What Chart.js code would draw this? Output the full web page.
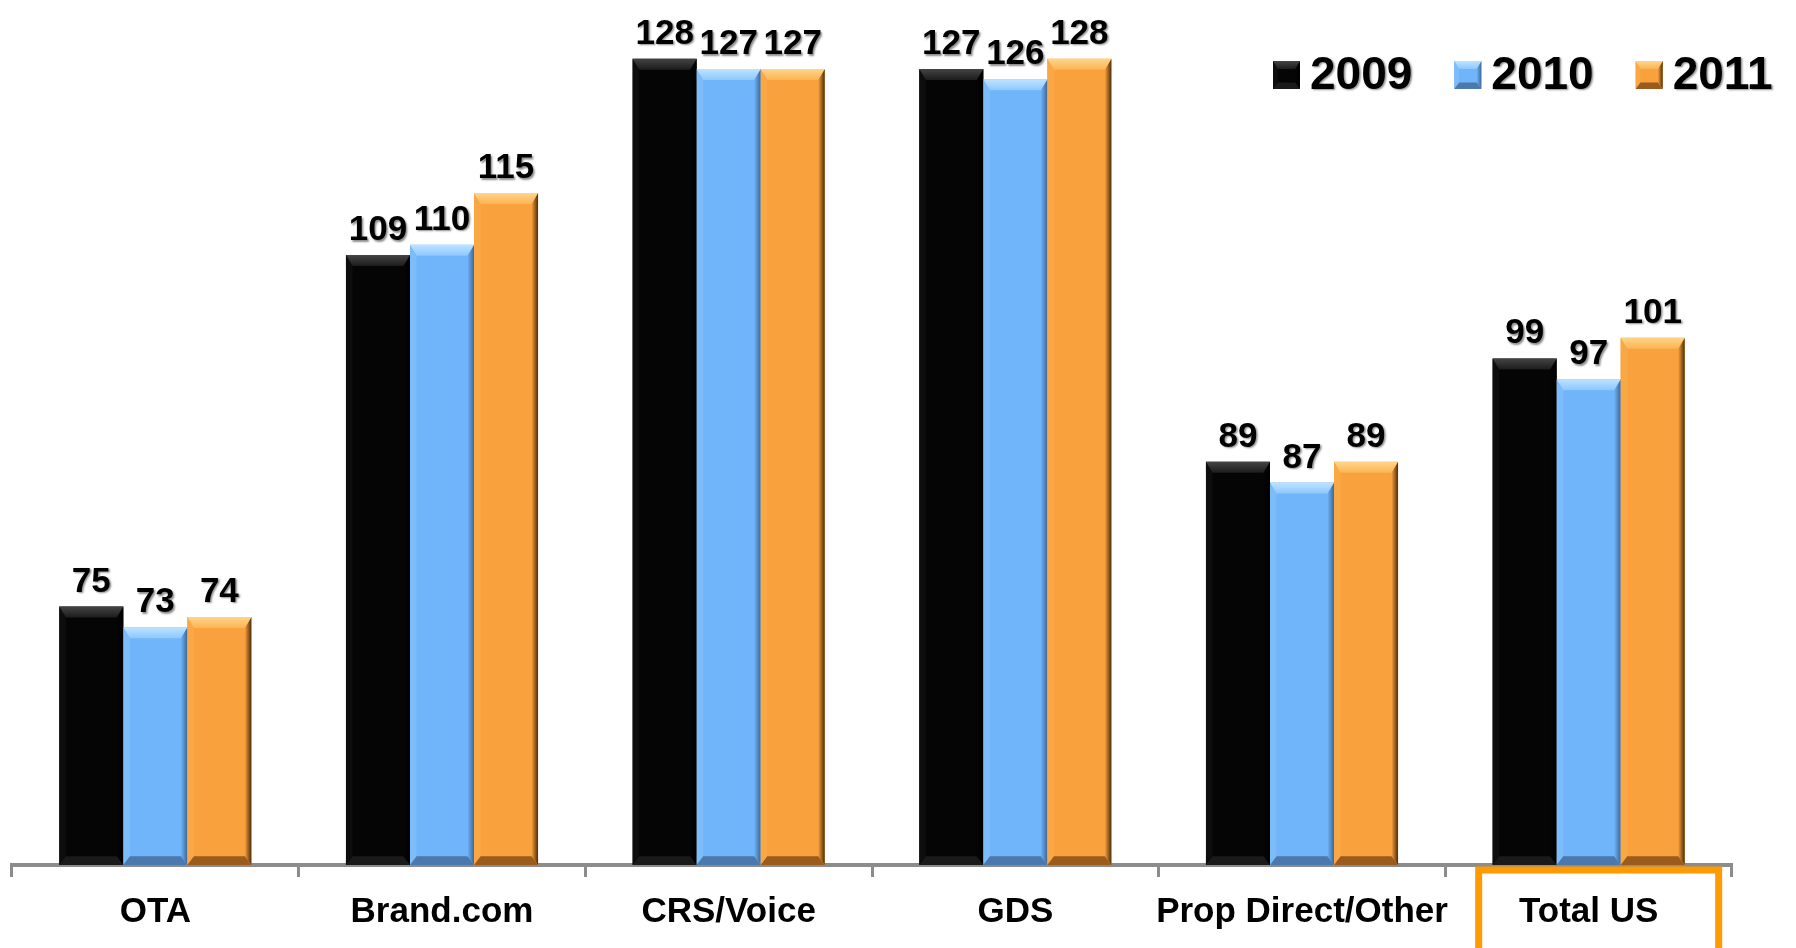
<!DOCTYPE html>
<html>
<head>
<meta charset="utf-8">
<script src="https://cdn.jsdelivr.net/npm/chart.js@4/dist/chart.umd.min.js"></script>
<style>
  html, body { margin: 0; padding: 0; background: #fff; }
  canvas { display: block; }
</style>
</head>
<body>
<canvas id="chart" width="1796" height="948"></canvas>
<script>
const categories = ['OTA', 'Brand.com', 'CRS/Voice', 'GDS', 'Prop Direct/Other', 'Total US'];
const years = ['2009', '2010', '2011'];
const values2009 = [75, 109, 128, 127, 89, 99];
const values2010 = [73, 110, 127, 126, 87, 97];
const values2011 = [74, 115, 127, 128, 89, 101];
const highlighted = 'Total US';

const FONT = "'Liberation Sans', Arial, sans-serif";

// face colour + bevel shades per series
const styles = [
  { face: '#050505', topA: '#444444', topB: '#1c1c1c', left: '#0d0d0d', right: '#000000', bottom: '#1a1a1a' },
  { face: '#70b4fa', topA: '#bfe3ff', topB: '#8cc8ff', left: '#7cbcf9', right: '#3b679a', bottom: '#4b78ad' },
  { face: '#f9a13c', topA: '#ffd58a', topB: '#fbb454', left: '#faa846', right: '#4e2c0a', bottom: '#9a5b1c' }
];

function bevel(ctx, l, t, r, b, st, size) {
  const bt = Math.min(size, (b - t) / 3), bs = size * 0.6, bb = size * 0.8;
  const poly = (pts, fill) => {
    ctx.beginPath();
    ctx.moveTo(pts[0][0], pts[0][1]);
    for (let i = 1; i < pts.length; i++) ctx.lineTo(pts[i][0], pts[i][1]);
    ctx.closePath();
    ctx.fillStyle = fill;
    ctx.fill();
  };
  poly([[l, t], [l + bs, t + bt], [l + bs, b - bb], [l, b]], st.left);
  const gr = ctx.createLinearGradient(r - bs, 0, r, 0);
  gr.addColorStop(0, st.face);
  gr.addColorStop(1, st.right);
  poly([[r, t], [r, b], [r - bs, b - bb], [r - bs, t + bt]], gr);
  poly([[l, b], [r, b], [r - bs, b - bb], [l + bs, b - bb]], st.bottom);
  const gt = ctx.createLinearGradient(0, t, 0, t + bt);
  gt.addColorStop(0, st.topA);
  gt.addColorStop(1, st.topB);
  poly([[l, t], [r, t], [r - bs, t + bt], [l + bs, t + bt]], gt);
}

const barDecor = {
  id: 'barDecor',
  afterDatasetsDraw(chart) {
    const ctx = chart.ctx;
    const bottom = chart.chartArea.bottom;
    chart.data.datasets.forEach((ds, i) => {
      const meta = chart.getDatasetMeta(i);
      meta.data.forEach((bar, j) => {
        const p = bar.getProps(['x', 'y', 'base', 'width'], true);
        const l = p.x - p.width / 2, r = p.x + p.width / 2;
        ctx.save();
        bevel(ctx, l, p.y, r, Math.min(p.base, bottom), styles[i], 11);
        ctx.restore();

        ctx.save();
        ctx.font = `bold 35px ${FONT}`;
        ctx.fillStyle = '#000';
        ctx.textAlign = 'center';
        ctx.textBaseline = 'alphabetic';
        ctx.shadowColor = 'rgba(0,0,0,0.45)';
        ctx.shadowOffsetX = 1.5;
        ctx.shadowOffsetY = 1.5;
        ctx.shadowBlur = 2;
        ctx.fillText(String(ds.data[j]), p.x, p.y - 15);
        ctx.restore();
      });
    });
  },
  afterDraw(chart) {
    const ctx = chart.ctx;
    // legend, top right
    ctx.save();
    ctx.font = `bold 46px ${FONT}`;
    ctx.textBaseline = 'middle';
    let x = 1273;
    const y = 61, box = 27;
    chart.data.datasets.forEach((ds, i) => {
      const st = styles[i];
      ctx.fillStyle = st.face;
      ctx.fillRect(x, y, box, box + 1);
      bevel(ctx, x, y, x + box, y + box + 1, st, 8);
      ctx.fillStyle = '#000';
      ctx.shadowColor = 'rgba(0,0,0,0.45)';
      ctx.shadowOffsetX = 1.5;
      ctx.shadowOffsetY = 1.5;
      ctx.shadowBlur = 2;
      ctx.fillText(ds.label, x + box + 10, y + 15);
      ctx.shadowColor = 'transparent';
      x += box + 10 + ctx.measureText(ds.label).width + 42;
    });
    ctx.restore();

    // frame around the highlighted category label
    const xs = chart.scales.x;
    const idx = chart.data.labels.indexOf(highlighted);
    if (idx >= 0) {
      const cx = xs.getPixelForValue(idx) + 10;
      const half = 120;
      const top = chart.chartArea.bottom + 5;
      ctx.save();
      ctx.strokeStyle = '#ff9a00';
      ctx.lineWidth = 7;
      ctx.strokeRect(cx - half, top, half * 2, 100);
      ctx.restore();
    }
  }
};

new Chart(document.getElementById('chart'), {
  type: 'bar',
  data: {
    labels: categories,
    datasets: [
      { label: years[0], data: values2009, backgroundColor: styles[0].face },
      { label: years[1], data: values2010, backgroundColor: styles[1].face },
      { label: years[2], data: values2011, backgroundColor: styles[2].face }
    ]
  },
  options: {
    responsive: false,
    animation: false,
    devicePixelRatio: 1,
    datasets: { bar: { categoryPercentage: 0.67, barPercentage: 1.0, borderWidth: 0, base: 50 } },
    layout: { padding: { left: 12, right: 64, top: 38, bottom: 1 } },
    plugins: { legend: { display: false }, tooltip: { enabled: false } },
    scales: {
      y: { display: false, min: 50, max: 130 },
      x: {
        grid: { drawOnChartArea: false, offset: true, tickLength: 12, tickWidth: 3, tickColor: '#8c8c8c' },
        border: { color: '#8c8c8c', width: 4 },
        ticks: {
          color: '#000', padding: 14, maxRotation: 0, minRotation: 0, autoSkip: false,
          font: { family: FONT, size: 35, weight: 'bold' }
        }
      }
    }
  },
  plugins: [barDecor]
});
</script>
</body>
</html>
